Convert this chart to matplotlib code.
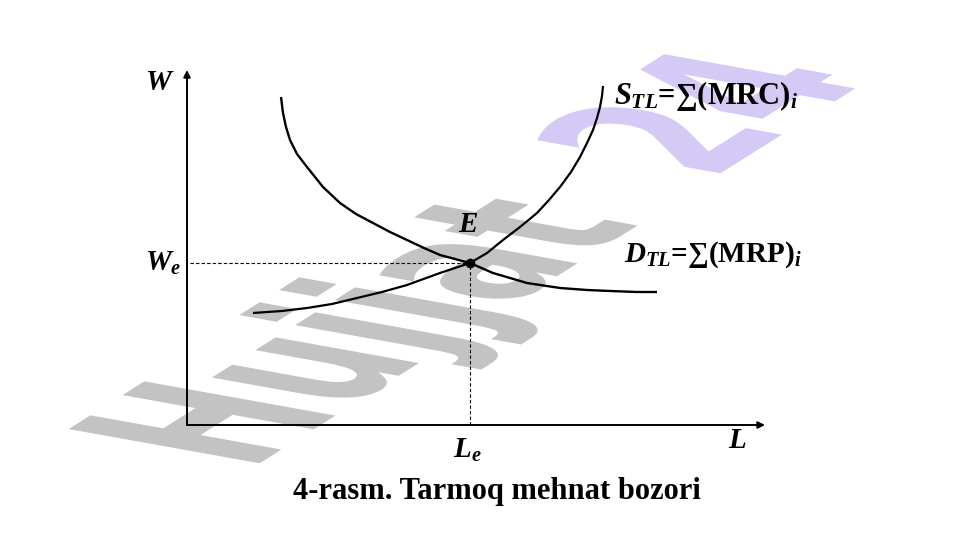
import matplotlib
matplotlib.use("Agg")
import matplotlib.pyplot as plt
import numpy as np
from matplotlib.textpath import TextPath
from matplotlib.patches import PathPatch
from matplotlib.font_manager import FontProperties
from matplotlib.transforms import Affine2D

plt.rcParams['mathtext.fontset'] = 'custom'
plt.rcParams['mathtext.rm'] = 'Liberation Serif:bold'
plt.rcParams['mathtext.it'] = 'Liberation Serif:italic:bold'
plt.rcParams['mathtext.bf'] = 'Liberation Serif:bold'

# kurve nuqtalari (L, W)
supply_L = [66, 95, 120, 145, 170, 195, 220, 253, 283, 300, 316, 333, 350, 362, 373, 384, 393, 400, 406, 410, 413, 415, 416]
supply_W = [112, 114, 117, 121, 127, 133, 140, 152, 162, 172, 185, 198, 212, 225, 238, 253, 268, 282, 295, 307, 318, 329, 339]
demand_L = [94, 95, 96, 99, 103, 110, 120, 136, 153, 169, 186, 203, 220, 237, 253, 268, 283, 306, 340, 373, 400, 423, 450, 470]
demand_W = [328, 320, 312, 298, 285, 271, 258, 238, 222, 211, 202, 193, 185, 177, 170, 166, 162, 152, 142, 137, 135, 134, 133, 133]
eq_L, eq_W = 283, 162
L_max, W_max = 578, 355

fig = plt.figure(figsize=(9.61, 5.4), dpi=100)
ax = fig.add_axes([0, 0, 1, 1])
ax.set_xlim(-187, 774)
ax.set_ylim(-115, 425)
ax.axis('off')

# watermark "Hujjat 24"
fp = FontProperties(family='DejaVu Sans', weight='bold')
full = TextPath((0, 0), "Hujjat 24", size=1, prop=fp)
p_grey = TextPath((0, 0), "Hujjat", size=1, prop=fp)
x0 = full.get_extents().x1 - TextPath((0, 0), "24", size=1, prop=fp).get_extents().x1 + 0.25
p_lav = TextPath((x0, 0), "24", size=1, prop=fp)
M = np.array([[116.0, -262.0, 62.0],
              [73.0, 47.0, -45.0],
              [0, 0, 1]])
wm = Affine2D(M) + ax.transData
ax.add_patch(PathPatch(p_grey, facecolor='#c3c3c3', edgecolor='none', transform=wm, zorder=0))
ax.add_patch(PathPatch(p_lav, facecolor='#d5caf6', edgecolor='none', transform=wm, zorder=0))

# o'qlar
ax.annotate('', xy=(0, W_max), xytext=(0, 0),
            arrowprops=dict(arrowstyle='-|>', color='black', lw=1.4, mutation_scale=10, shrinkA=0, shrinkB=0))
ax.annotate('', xy=(L_max, 0), xytext=(0, 0),
            arrowprops=dict(arrowstyle='-|>', color='black', lw=1.4, mutation_scale=10, shrinkA=0, shrinkB=0))

ax.plot(supply_L, supply_W, color='black', lw=1.6, solid_capstyle='butt', solid_joinstyle='round', zorder=3)
ax.plot(demand_L, demand_W, color='black', lw=1.7, solid_capstyle='butt', solid_joinstyle='round', zorder=3)

ax.plot([3, eq_L], [eq_W, eq_W], color='black', lw=0.8, ls=(0, (3, 2)), zorder=2)
ax.plot([eq_L, eq_L], [0, eq_W], color='black', lw=0.8, ls=(0, (3, 2)), zorder=2)
ax.plot(eq_L, eq_W, 'o', color='black', ms=6, zorder=4)

tk = dict(family=['Liberation Serif', 'DejaVu Serif'], fontweight='bold', color='black')
ax.text(-27, 343, r'$\mathit{W}$', fontsize=21, ha='center', va='center', **tk)
ax.text(-6, eq_W, r'$\mathit{W}_{\mathit{e}}$', fontsize=21, ha='right', va='center', **tk)
ax.text(eq_L - 2, 200, r'$\mathit{E}$', fontsize=21, ha='center', va='center', **tk)
ax.text(eq_L - 3, -25, r'$\mathit{L}_{\mathit{e}}$', fontsize=21, ha='center', va='center', **tk)
ax.text(550, -15, r'$\mathit{L}$', fontsize=21, ha='center', va='center', **tk)
ax.text(427, 329, r'$\mathit{S}_{\mathit{TL}}$=∑(MRC)$_{\mathit{i}}$', fontsize=22,
        ha='left', va='center', **tk)
ax.text(437, 170, r'$\mathit{D}_{\mathit{TL}}$=∑(MRP)$_{\mathit{i}}$', fontsize=21,
        ha='left', va='center', **tk)
ax.text(310, -67, '4-rasm. Tarmoq mehnat bozori', fontsize=22, ha='center', va='center', **tk)

fig.savefig('out.png', dpi=100, facecolor='white')
